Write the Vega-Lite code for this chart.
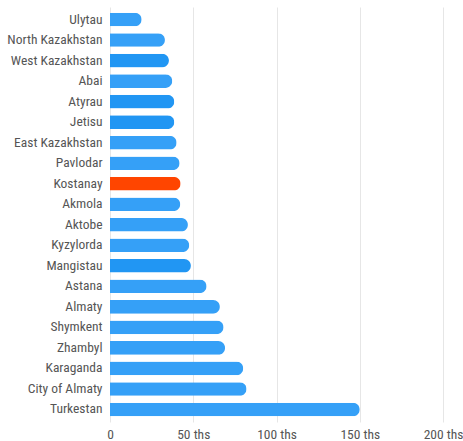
{
  "$schema": "https://vega.github.io/schema/vega-lite/v6.json",
  "width": 333,
  "height": 415,
  "autosize": {"type": "none"},
  "padding": {"left": 110, "top": 7, "right": 20, "bottom": 19},
  "background": "white",
  "config": {
    "view": {"stroke": null},
    "font": "Roboto",
    "axis": {"labelFont": "Roboto Condensed", "labelFontSize": 13.5, "labelColor": "#555555"}
  },
  "data": {
    "values": [
      {"region": "Ulytau", "value": 19},
      {"region": "North Kazakhstan", "value": 33},
      {"region": "West Kazakhstan", "value": 35.4},
      {"region": "Abai", "value": 37.4},
      {"region": "Atyrau", "value": 38.6},
      {"region": "Jetisu", "value": 38.6},
      {"region": "East Kazakhstan", "value": 40},
      {"region": "Pavlodar", "value": 41.8},
      {"region": "Kostanay", "value": 42.4},
      {"region": "Akmola", "value": 42.2},
      {"region": "Aktobe", "value": 46.8},
      {"region": "Kyzylorda", "value": 47.6},
      {"region": "Mangistau", "value": 48.6},
      {"region": "Astana", "value": 58},
      {"region": "Almaty", "value": 66},
      {"region": "Shymkent", "value": 68.2},
      {"region": "Zhambyl", "value": 69.1},
      {"region": "Karaganda", "value": 80},
      {"region": "City of Almaty", "value": 82},
      {"region": "Turkestan", "value": 150}
    ]
  },
  "mark": {"type": "bar", "cornerRadiusEnd": 7},
  "encoding": {
    "y": {
      "field": "region",
      "type": "nominal",
      "sort": null,
      "title": null,
      "scale": {"paddingInner": 0.338, "paddingOuter": 0.28},
      "axis": {"ticks": false, "domain": false, "labelPadding": 8, "grid": false}
    },
    "x": {
      "field": "value",
      "type": "quantitative",
      "title": null,
      "scale": {"domain": [0, 200], "nice": false},
      "axis": {
        "values": [0, 50, 100, 150, 200],
        "labelExpr": "datum.value == 0 ? '0' : datum.value + ' ths'",
        "ticks": false,
        "domain": false,
        "grid": true,
        "gridColor": "#e6e6e6",
        "gridWidth": 1,
        "labelPadding": 5,
        "labelFlush": false
      }
    },
    "color": {
      "condition": [
        {"test": "datum.region == 'Kostanay'", "value": "#ff4500"},
        {"test": "indexof(['West Kazakhstan','Atyrau','Jetisu','Mangistau'], datum.region) >= 0", "value": "#2196f3"}
      ],
      "value": "#35a0f7"
    }
  }
}
